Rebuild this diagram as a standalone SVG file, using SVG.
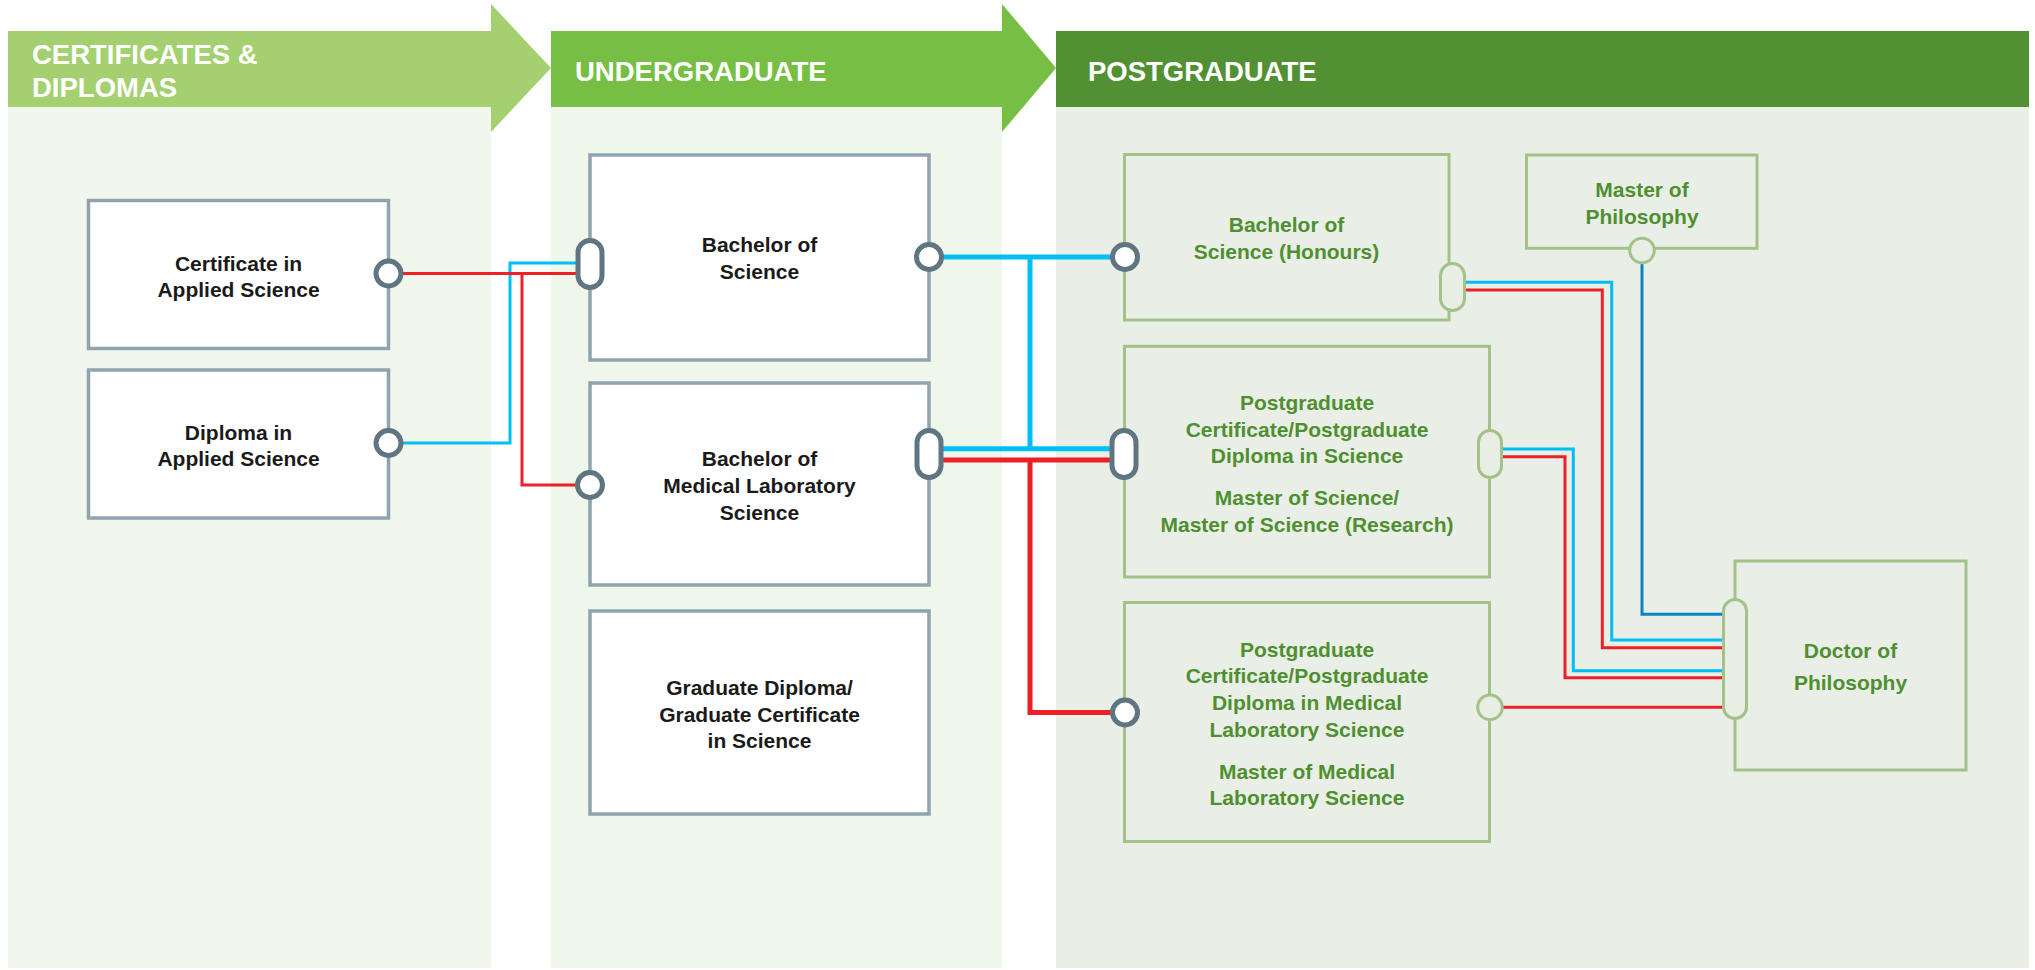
<svg xmlns="http://www.w3.org/2000/svg" width="2035" height="970" viewBox="0 0 2035 970">
<style>
.hdr{font-family:"Liberation Sans",Arial,sans-serif;font-weight:bold;font-size:27.5px;fill:#ffffff}
.t{font-family:"Liberation Sans",Arial,sans-serif;font-weight:bold;font-size:21px;text-anchor:middle}
.tk{fill:#1a1a1a}
.tg{fill:#4f8f30}
.gbox{fill:#ffffff;stroke:#8fa4ae;stroke-width:3.5}
.pbox{fill:none;stroke:#a3c28a;stroke-width:3}
.dport{fill:#ffffff;stroke:#5f7581;stroke-width:5}
.gport{fill:#e8eee4;stroke:#a3c28a;stroke-width:3}
.thin{fill:none;stroke-width:3}
.thick{fill:none;stroke-width:5}
.red{stroke:#ed1f27}
.cyan{stroke:#00bff3}
.dblue{stroke:#0a84c6}
</style>
<rect width="2035" height="970" fill="#ffffff"/>
<g id="columns">
<rect x="8" y="107" width="483" height="861" fill="#f2f7ed"/>
<rect x="551" y="107" width="451" height="861" fill="#eff6ea"/>
<rect x="1056" y="107" width="973" height="861" fill="#e9efe7"/>
<rect x="8" y="31" width="483" height="76" fill="#a4d06f"/>
<polygon points="491,4 551,68 491,132" fill="#a4d06f"/>
<rect x="551" y="31" width="451" height="76" fill="#76bf44"/>
<polygon points="1002,4 1056,68 1002,132" fill="#76bf44"/>
<rect x="1056" y="31" width="973" height="76" fill="#519133"/>
<text class="hdr" x="32" y="64">CERTIFICATES &amp;</text>
<text class="hdr" x="32" y="97">DIPLOMAS</text>
<text class="hdr" x="575" y="81">UNDERGRADUATE</text>
<text class="hdr" x="1088" y="81">POSTGRADUATE</text>
</g>
<g id="connectors">
<path class="thin cyan" d="M388.5,443 H510 V263 H589"/>
<path class="thin red" d="M388.5,273.5 H589"/>
<path class="thin red" d="M522,273.5 V485 H590"/>
<path class="thick cyan" d="M929,257 H1125"/>
<path class="thick cyan" d="M1030,257 V448.7"/>
<path class="thick cyan" d="M929,448.7 H1124"/>
<path class="thick red" d="M929,460 H1124"/>
<path class="thick red" d="M1030,460 V712.5 H1125"/>
<path class="thin dblue" d="M1642,250 V614.3 H1735"/>
<path class="thin cyan" d="M1452,282.3 H1611.7 V640 H1735"/>
<path class="thin red" d="M1452,290 H1602.3 V647.7 H1735"/>
<path class="thin cyan" d="M1490,449 H1573.3 V670.7 H1735"/>
<path class="thin red" d="M1490,456.7 H1565 V677.7 H1735"/>
<path class="thin red" d="M1490,707.3 H1735"/>
</g>
<g id="cert-applied">
<rect class="gbox" x="88.5" y="200.5" width="300" height="148"/>
<text class="t tk" x="238.5" y="271">Certificate in</text>
<text class="t tk" x="238.5" y="297">Applied Science</text>
<circle class="dport" cx="388.5" cy="273.5" r="12.5"/>
</g>
<g id="dip-applied">
<rect class="gbox" x="88.5" y="370" width="300" height="148"/>
<text class="t tk" x="238.5" y="440">Diploma in</text>
<text class="t tk" x="238.5" y="466">Applied Science</text>
<circle class="dport" cx="388.5" cy="443" r="12.5"/>
</g>
<g id="bsc">
<rect class="gbox" x="590" y="155" width="339" height="205"/>
<text class="t tk" x="759.5" y="252">Bachelor of</text>
<text class="t tk" x="759.5" y="279">Science</text>
<rect class="dport" x="578" y="240.5" width="24" height="47" rx="12"/>
<circle class="dport" cx="929" cy="257" r="12.5"/>
</g>
<g id="bmls">
<rect class="gbox" x="590" y="383" width="339" height="202"/>
<text class="t tk" x="759.5" y="466">Bachelor of</text>
<text class="t tk" x="759.5" y="493">Medical Laboratory</text>
<text class="t tk" x="759.5" y="520">Science</text>
<circle class="dport" cx="590" cy="485" r="12.5"/>
<rect class="dport" x="917" y="430.5" width="24" height="47" rx="12"/>
</g>
<g id="graddip">
<rect class="gbox" x="590" y="611" width="339" height="203"/>
<text class="t tk" x="759.5" y="695">Graduate Diploma/</text>
<text class="t tk" x="759.5" y="722">Graduate Certificate</text>
<text class="t tk" x="759.5" y="748">in Science</text>
</g>
<g id="bsc-hons">
<rect class="pbox" x="1124.5" y="154.5" width="324.5" height="165.5"/>
<text class="t tg" x="1286.5" y="232">Bachelor of</text>
<text class="t tg" x="1286.5" y="259">Science (Honours)</text>
<circle class="dport" cx="1125" cy="257" r="12.5"/>
<rect class="gport" x="1440.5" y="263.5" width="24" height="47" rx="12"/>
</g>
<g id="pg-sci">
<rect class="pbox" x="1124.5" y="346.3" width="365" height="230.7"/>
<text class="t tg" x="1307" y="410">Postgraduate</text>
<text class="t tg" x="1307" y="437">Certificate/Postgraduate</text>
<text class="t tg" x="1307" y="463">Diploma in Science</text>
<text class="t tg" x="1307" y="505">Master of Science/</text>
<text class="t tg" x="1307" y="532">Master of Science (Research)</text>
<rect class="dport" x="1112" y="430.5" width="24" height="47" rx="12"/>
<rect class="gport" x="1478.5" y="430.5" width="23" height="47" rx="11.5"/>
</g>
<g id="pg-mls">
<rect class="pbox" x="1124.5" y="602.5" width="365" height="239"/>
<text class="t tg" x="1307" y="657">Postgraduate</text>
<text class="t tg" x="1307" y="683">Certificate/Postgraduate</text>
<text class="t tg" x="1307" y="710">Diploma in Medical</text>
<text class="t tg" x="1307" y="737">Laboratory Science</text>
<text class="t tg" x="1307" y="779">Master of Medical</text>
<text class="t tg" x="1307" y="805">Laboratory Science</text>
<circle class="dport" cx="1125" cy="712.5" r="12.5"/>
<circle class="gport" cx="1490" cy="707.3" r="12.3"/>
</g>
<g id="mphil">
<rect class="pbox" x="1526.5" y="155" width="230.5" height="93.3"/>
<text class="t tg" x="1642" y="197">Master of</text>
<text class="t tg" x="1642" y="224">Philosophy</text>
<circle class="gport" cx="1642" cy="250.5" r="12.3"/>
</g>
<g id="phd">
<rect class="pbox" x="1735" y="561" width="231" height="209"/>
<text class="t tg" x="1850.5" y="658">Doctor of</text>
<text class="t tg" x="1850.5" y="690">Philosophy</text>
<rect class="gport" x="1723.5" y="599.5" width="23" height="119" rx="11.5"/>
</g>
</svg>
